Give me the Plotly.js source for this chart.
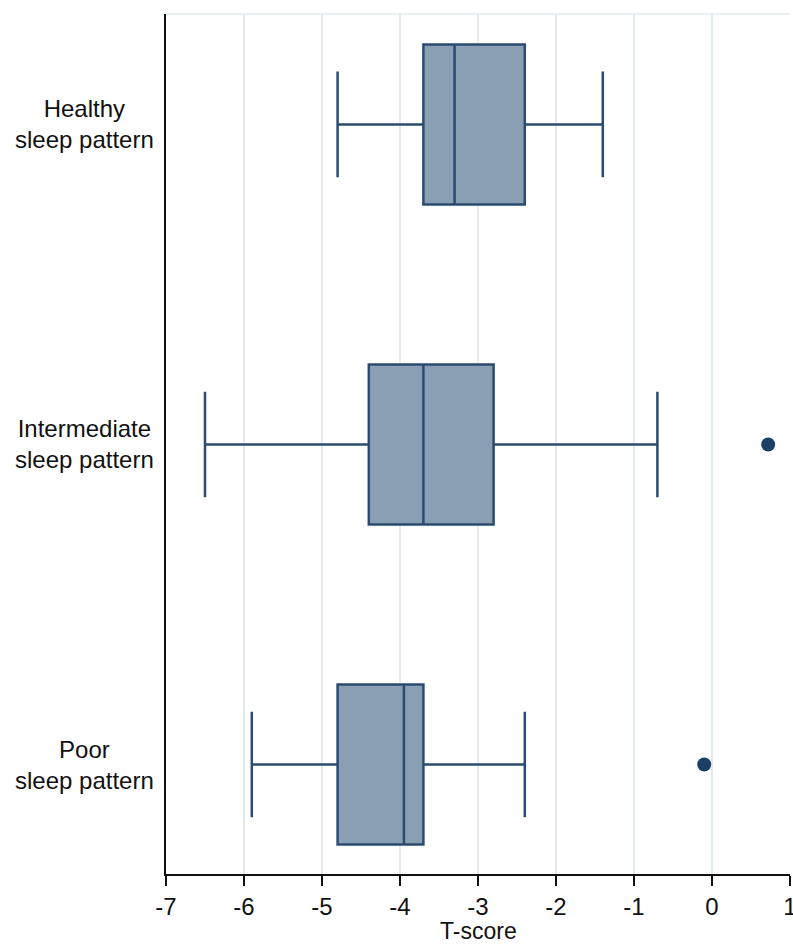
<!DOCTYPE html>
<html>
<head>
<meta charset="utf-8">
<script src="https://cdn.plot.ly/plotly-3.0.1.min.js"></script>
<style>
  html, body { margin: 0; padding: 0; background: #ffffff; }
  #chart { width: 793px; height: 946px; }
</style>
</head>
<body>
<div id="chart"></div>
<script>
// ---- data ----
const categories = ["Healthy", "Intermediate", "Poor"];
const categoryLabels = ["Healthy<br>sleep pattern", "Intermediate<br>sleep pattern", "Poor<br>sleep pattern"];
const lowerWhisker = [-4.8, -6.5, -5.9];
const q1Values = [-3.7, -4.4, -4.8];
const medianValues = [-3.3, -3.7, -3.95];
const q3Values = [-2.4, -2.8, -3.7];
const upperWhisker = [-1.4, -0.7, -2.4];
const outlierCategories = ["Intermediate", "Poor"];
const outlierValues = [0.72, -0.1];
const xTicks = [-7, -6, -5, -4, -3, -2, -1, 0, 1];
const xTitle = "T-score";

const lineColor = "#2b4b70";
const fillColor = "#8a9fb3";
const dotColor = "#1b3f67";
const font = "Liberation Sans, Arial, sans-serif";

const boxTrace = {
  type: "box",
  orientation: "h",
  y: categories,
  q1: q1Values,
  median: medianValues,
  q3: q3Values,
  lowerfence: lowerWhisker,
  upperfence: upperWhisker,
  width: 0.5,
  whiskerwidth: 0.66,
  fillcolor: fillColor,
  line: { color: lineColor, width: 2.5 },
  boxpoints: false,
  hoverinfo: "skip",
  showlegend: false
};

const outlierTrace = {
  type: "scatter",
  mode: "markers",
  x: outlierValues,
  y: outlierCategories,
  marker: { color: dotColor, size: 14 },
  hoverinfo: "skip",
  showlegend: false
};

const annotations = categories.map((c, i) => ({
  xref: "paper", yref: "y",
  x: 0, y: c,
  xshift: -10,
  xanchor: "right", yanchor: "middle",
  align: "center",
  text: categoryLabels[i],
  showarrow: false,
  font: { family: font, size: 24, color: "#111111" }
}));
annotations.push({
  xref: "paper", yref: "paper",
  x: 0.5, y: 0, yshift: -57,
  xanchor: "center", yanchor: "middle",
  text: xTitle,
  showarrow: false,
  font: { family: font, size: 23, color: "#111111" }
});

const layout = {
  width: 793, height: 946,
  margin: { l: 166, r: 3, t: 14, b: 72 },
  paper_bgcolor: "#ffffff",
  plot_bgcolor: "#ffffff",
  font: { family: font, color: "#111111" },
  xaxis: {
    range: [-7, 1],
    tickvals: xTicks,
    ticktext: xTicks.map(String),
    showgrid: true,
    gridcolor: "#e2ecef",
    gridwidth: 1.5,
    zeroline: false,
    showline: true,
    linecolor: "#111111",
    linewidth: 2,
    ticks: "outside",
    ticklen: 10,
    tickwidth: 2,
    tickcolor: "#111111",
    ticklabeloverflow: "allow",
    tickfont: { family: font, size: 24, color: "#111111" }
  },
  yaxis: {
    type: "category",
    categoryorder: "array",
    categoryarray: categories,
    range: [2.342, -0.345],
    showticklabels: false,
    ticks: "",
    showgrid: false,
    zeroline: false,
    showline: true,
    linecolor: "#111111",
    linewidth: 2
  },
  shapes: [{
    type: "line", xref: "paper", yref: "paper",
    x0: 0, x1: 1, y0: 1, y1: 1,
    line: { color: "#e2ecef", width: 1.5 }
  }],
  annotations: annotations
};

Plotly.newPlot("chart", [boxTrace, outlierTrace], layout, { displayModeBar: false, staticPlot: true });
</script>
</body>
</html>
